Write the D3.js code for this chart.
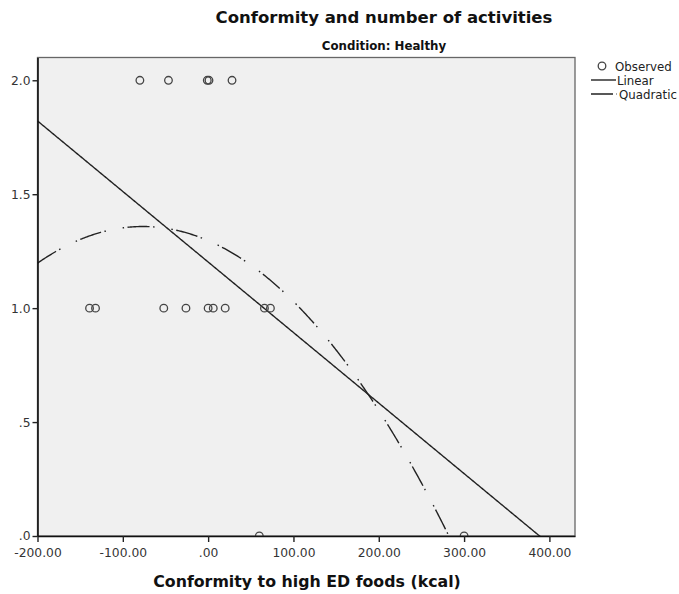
<!DOCTYPE html>
<html>
<head>
<meta charset="utf-8">
<script src="https://cdn.jsdelivr.net/npm/d3@7"></script>
<style>
  html, body { margin: 0; padding: 0; background: #fff; }
  svg { display: block; font-family: "DejaVu Sans", sans-serif; }
</style>
</head>
<body>
<svg id="chart" width="679" height="594"></svg>
<script>
// Observed cases: conformity (kcal) and number of activities
const conformity = [-80, -46.5, -1, 1, 28,
                    -139, -132, -52, -26, 0, 6, 20, 66, 73,
                    60, 300];
const activities = [2, 2, 2, 2, 2,
                    1, 1, 1, 1, 1, 1, 1, 1, 1,
                    0, 0];

const xTicks = [-200, -100, 0, 100, 200, 300, 400];
const yTicks = [0, 0.5, 1.0, 1.5, 2.0];
const legendItems = ["Observed", "Linear", "Quadratic"];

const svg = d3.select("#chart");
const plot = { left: 37.5, right: 575, top: 57.5, bottom: 536 };

const x = d3.scaleLinear().domain([-200, 430]).range([plot.left, plot.right]);
const y = d3.scaleLinear().domain([0, 2.1]).range([plot.bottom, plot.top]);

const points = conformity.map((c, i) => ({ x: c, y: activities[i] }));

// Least-squares fits (linear and quadratic) of activities on conformity
function polyFit(data, degree) {
  const n = degree + 1;
  const A = Array.from({ length: n }, () => new Array(n).fill(0));
  const b = new Array(n).fill(0);
  data.forEach(d => {
    for (let r = 0; r < n; r++) {
      b[r] += d.y * Math.pow(d.x, r);
      for (let c = 0; c < n; c++) A[r][c] += Math.pow(d.x, r + c);
    }
  });
  // Gaussian elimination with partial pivoting
  for (let i = 0; i < n; i++) {
    let p = i;
    for (let k = i + 1; k < n; k++) if (Math.abs(A[k][i]) > Math.abs(A[p][i])) p = k;
    [A[i], A[p]] = [A[p], A[i]]; [b[i], b[p]] = [b[p], b[i]];
    for (let k = i + 1; k < n; k++) {
      const f = A[k][i] / A[i][i];
      for (let c = i; c < n; c++) A[k][c] -= f * A[i][c];
      b[k] -= f * b[i];
    }
  }
  const coef = new Array(n).fill(0);
  for (let i = n - 1; i >= 0; i--) {
    let s = b[i];
    for (let c = i + 1; c < n; c++) s -= A[i][c] * coef[c];
    coef[i] = s / A[i][i];
  }
  return xv => coef.reduce((acc, cf, k) => acc + cf * Math.pow(xv, k), 0);
}

const linFit = polyFit(points, 1);
const quadFit = polyFit(points, 2);

svg.append("defs").append("clipPath").attr("id", "plotClip")
  .append("rect")
  .attr("x", plot.left).attr("y", plot.top)
  .attr("width", plot.right - plot.left).attr("height", plot.bottom - plot.top);

// Plot background and frame
svg.append("rect")
  .attr("x", plot.left).attr("y", plot.top)
  .attr("width", plot.right - plot.left).attr("height", plot.bottom - plot.top)
  .attr("fill", "#f0f0f0")
  .attr("stroke", "#666").attr("stroke-width", 1.3);

const layer = svg.append("g").attr("clip-path", "url(#plotClip)");

const xs = d3.range(-200, 430.5, 1);
const line = d3.line().x(d => x(d[0])).y(d => y(d[1]));

layer.append("path")
  .datum(xs.map(v => [v, linFit(v)]))
  .attr("d", line)
  .attr("fill", "none").attr("stroke", "#222").attr("stroke-width", 1.4);

layer.append("path")
  .datum(xs.map(v => [v, quadFit(v)]))
  .attr("d", line)
  .attr("fill", "none").attr("stroke", "#222").attr("stroke-width", 1.4)
  .attr("stroke-dasharray", "22,3.5,1.5,17,1.5,3.5");

layer.selectAll("circle.obs")
  .data(points)
  .join("circle")
  .attr("class", "obs")
  .attr("cx", d => x(d.x)).attr("cy", d => y(d.y))
  .attr("r", 3.8)
  .attr("fill", "none").attr("stroke", "#444").attr("stroke-width", 1.3);

// Axes
const xAxis = d3.axisBottom(x).tickValues(xTicks).tickSize(6).tickSizeOuter(0)
  .tickFormat(d => d === 0 ? ".00" : d3.format(".2f")(d).replace("\u2212", "-"));
const gx = svg.append("g").attr("transform", `translate(0,${plot.bottom})`).call(xAxis);

const yAxis = d3.axisLeft(y).tickValues(yTicks).tickSize(5).tickSizeOuter(0)
  .tickFormat(d => d3.format(".1f")(d).replace(/^0/, ""));
const gy = svg.append("g").attr("transform", `translate(${plot.left},0)`).call(yAxis);

[gx, gy].forEach(g => {
  g.attr("font-size", null).attr("font-family", null);
  g.select(".domain").attr("stroke", "#111").attr("stroke-width", 1.6);
  g.selectAll(".tick line").attr("stroke", "#222").attr("stroke-width", 1.4);
  g.selectAll(".tick text").attr("fill", "#333")
    .attr("font-family", "'DejaVu Sans', sans-serif").attr("font-size", "12.3px");
});
gx.selectAll(".tick text").attr("dy", "0.95em");
gy.selectAll(".tick text").attr("dx", "1px");

// Titles
svg.append("text").attr("x", 384).attr("y", 23)
  .attr("text-anchor", "middle").attr("font-weight", "bold").attr("font-size", "16.5px")
  .attr("fill", "#111").text("Conformity and number of activities");
svg.append("text").attr("x", 384).attr("y", 49.5)
  .attr("text-anchor", "middle").attr("font-weight", "bold").attr("font-size", "11.8px")
  .attr("fill", "#111").text("Condition: Healthy");
svg.append("text").attr("x", 307).attr("y", 587)
  .attr("text-anchor", "middle").attr("font-weight", "bold").attr("font-size", "15.8px")
  .attr("fill", "#111").text("Conformity to high ED foods (kcal)");

// Legend
const legend = svg.append("g").attr("transform", "translate(590,0)");
const rows = [66, 80, 94];
legend.append("circle").attr("cx", 12).attr("cy", rows[0]).attr("r", 3.8)
  .attr("fill", "none").attr("stroke", "#444").attr("stroke-width", 1.3);
legend.append("line").attr("x1", 1).attr("x2", 26).attr("y1", rows[1]).attr("y2", rows[1])
  .attr("stroke", "#222").attr("stroke-width", 1.4);
legend.append("line").attr("x1", 1).attr("x2", 27).attr("y1", rows[2]).attr("y2", rows[2])
  .attr("stroke", "#222").attr("stroke-width", 1.4).attr("stroke-dasharray", "22,3.5,1.5,17");
legend.selectAll("text.leg").data(legendItems).join("text")
  .attr("class", "leg")
  .attr("x", (d, i) => i === 2 ? 29 : (i === 0 ? 25 : 27))
  .attr("y", (d, i) => rows[i] + 4.5)
  .attr("font-size", "11.8px").attr("fill", "#222").text(d => d);
</script>
</body>
</html>
